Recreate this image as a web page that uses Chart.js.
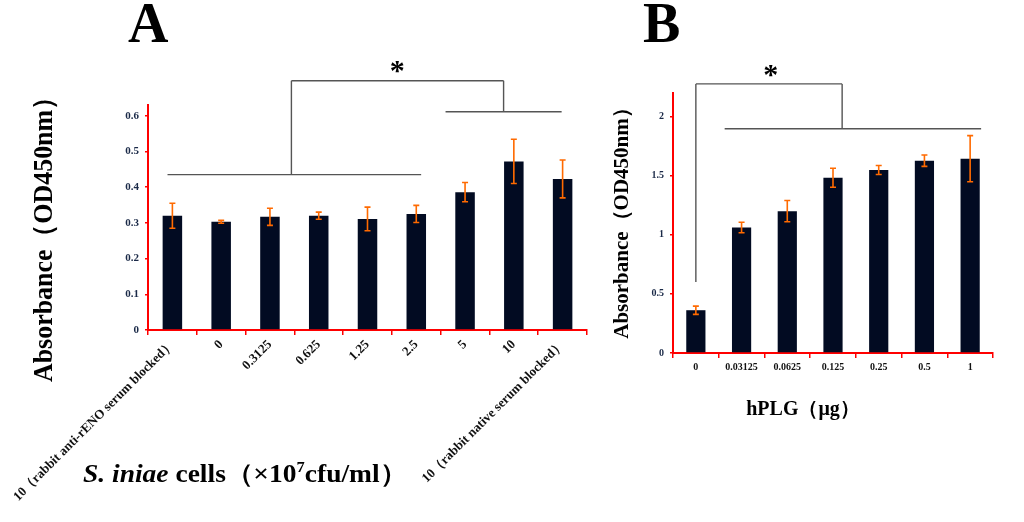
<!DOCTYPE html>
<html>
<head>
<meta charset="utf-8">
<script src="https://cdn.jsdelivr.net/npm/chart.js@4.4.1/dist/chart.umd.min.js"></script>
<style>
    html, body { margin: 0; padding: 0; background: #fff; width: 1024px; height: 522px; overflow: hidden; }
    canvas { position: absolute; top: 0; }
    #chartA { left: 0; }
    #chartB { left: 600px; }
</style>
</head>
<body>
<canvas id="chartA" width="600" height="522"></canvas>
<canvas id="chartB" width="424" height="522"></canvas>
<script>
// ---------------------------------------------------------------------------
// Data
// ---------------------------------------------------------------------------
const cellLabels = [
    '10（rabbit anti-rENO serum blocked）', '0', '0.3125', '0.625', '1.25',
    '2.5', '5', '10', '10（rabbit native serum blocked）',
];
const cellMeans  = [0.320, 0.303, 0.317, 0.320, 0.311, 0.325, 0.386, 0.472, 0.423];
const cellErrors = [0.035, 0.004, 0.024, 0.010, 0.033, 0.024, 0.027, 0.062, 0.053];

const hplgLabels = ['0', '0.03125', '0.0625', '0.125', '0.25', '0.5', '1'];
const hplgMeans  = [0.362, 1.062, 1.200, 1.483, 1.548, 1.627, 1.644];
const hplgErrors = [0.035, 0.044, 0.090, 0.080, 0.038, 0.048, 0.195];

// significance brackets, in data units: [xIndex1, y1, xIndex2, y2]
const bracketA = [
    [-0.1, 0.435, 5.1, 0.435],
    [2.44, 0.435, 2.44, 0.698],
    [2.44, 0.698, 6.79, 0.698],
    [6.79, 0.698, 6.79, 0.611],
    [5.6, 0.611, 7.98, 0.611],
];
const starA = [4.61, 0.736];

const bracketB = [
    [0, 0.6, 0, 2.277],
    [0, 2.277, 3.2, 2.277],
    [3.2, 2.277, 3.2, 1.898],
    [0.63, 1.898, 6.24, 1.898],
];
const starB = [1.64, 2.38];

// ---------------------------------------------------------------------------
// Styles
// ---------------------------------------------------------------------------
const SERIF = '"Liberation Serif", "Times New Roman", serif';
const BAR_COLOR = '#020b22';
const AXIS_RED = '#ff0000';
const ERR_COLOR = '#ff6a00';
const TICK_BLUE = '#1b2a48';

// ---------------------------------------------------------------------------
// Plugins
// ---------------------------------------------------------------------------
const errorBars = {
    id: 'errorBars',
    afterDatasetsDraw(chart, args, opts) {
        const { ctx } = chart;
        const y = chart.scales.y;
        const values = chart.data.datasets[0].data;
        ctx.save();
        ctx.strokeStyle = ERR_COLOR;
        ctx.lineWidth = 1.6;
        chart.getDatasetMeta(0).data.forEach((bar, i) => {
            const top = y.getPixelForValue(values[i] + opts.errors[i]);
            const bot = y.getPixelForValue(values[i] - opts.errors[i]);
            ctx.beginPath();
            ctx.moveTo(bar.x, top); ctx.lineTo(bar.x, bot);
            ctx.moveTo(bar.x - 3, top); ctx.lineTo(bar.x + 3, top);
            ctx.moveTo(bar.x - 3, bot); ctx.lineTo(bar.x + 3, bot);
            ctx.stroke();
        });
        ctx.restore();
    },
};

const brackets = {
    id: 'brackets',
    afterDraw(chart, args, opts) {
        const { ctx } = chart;
        const { x, y } = chart.scales;
        ctx.save();
        ctx.strokeStyle = '#555';
        ctx.lineWidth = 1.4;
        ctx.beginPath();
        opts.lines.forEach(([x1, y1, x2, y2]) => {
            ctx.moveTo(x.getPixelForValue(x1), y.getPixelForValue(y1));
            ctx.lineTo(x.getPixelForValue(x2), y.getPixelForValue(y2));
        });
        ctx.stroke();
        ctx.fillStyle = '#000';
        ctx.font = `bold 30px ${SERIF}`;
        ctx.textAlign = 'center';
        ctx.textBaseline = 'middle';
        ctx.fillText('*', x.getPixelForValue(opts.star[0]), y.getPixelForValue(opts.star[1]) + 5);
        ctx.restore();
    },
};

// free text: panel letters and axis titles
const labels = {
    id: 'labels',
    afterDraw(chart, args, opts) {
        const { ctx } = chart;
        ctx.save();
        ctx.fillStyle = '#000';
        opts.items.forEach(item => {
            ctx.save();
            ctx.translate(item.x, item.y);
            if (item.rotate) ctx.rotate(item.rotate);
            if (item.scaleX) ctx.scale(item.scaleX, 1);
            ctx.textBaseline = 'alphabetic';
            let total = 0;
            item.parts.forEach(p => { ctx.font = p.font; total += ctx.measureText(p.text).width; });
            let cx = item.align === 'center' ? -total / 2 : 0;
            item.parts.forEach(p => {
                ctx.font = p.font;
                ctx.fillText(p.text, cx, p.dy || 0);
                cx += ctx.measureText(p.text).width;
            });
            ctx.restore();
        });
        ctx.restore();
    },
};

function yAxis(max, step, width, font) {
    return {
        min: 0,
        max: max,
        // whole steps only; the axis line runs a little past the last tick
        afterBuildTicks: s => {
            const n = Math.floor(max / step + 1e-9);
            s.ticks = Array.from({ length: n + 1 }, (_, i) => ({ value: Number((i * step).toFixed(3)) }));
        },
        afterFit: s => { s.width = width; },
        grid: { display: true, drawOnChartArea: false, color: AXIS_RED, lineWidth: 1.5, tickLength: 3 },
        border: { color: AXIS_RED, width: 2 },
        ticks: {
            stepSize: step, color: TICK_BLUE, padding: 6,
            font: { family: SERIF, size: font, weight: 'bold' },
            callback: v => String(Number(v.toFixed(3))),
        },
    };
}

// ---------------------------------------------------------------------------
// Panel A
// ---------------------------------------------------------------------------
new Chart(document.getElementById('chartA'), {
    type: 'bar',
    data: {
        labels: cellLabels,
        datasets: [{ data: cellMeans, backgroundColor: BAR_COLOR, barPercentage: 0.4, categoryPercentage: 1 }],
    },
    options: {
        responsive: false,
        animation: false,
        layout: { padding: { left: 0, right: 13, top: 105, bottom: 0 } },
        plugins: {
            legend: { display: false },
            tooltip: { enabled: false },
            errorBars: { errors: cellErrors },
            brackets: { lines: bracketA, star: starA },
            labels: {
                items: [
                    { x: 128, y: 42, parts: [{ text: 'A', font: `bold 56px ${SERIF}` }] },
                    { x: 52, y: 233, rotate: -Math.PI / 2, scaleX: 0.96, align: 'center',
                      parts: [{ text: 'Absorbance（OD450nm）', font: `bold 27px ${SERIF}` }] },
                    { x: 83, y: 482, scaleX: 1.1, parts: [
                        { text: 'S. iniae', font: `italic bold 25px ${SERIF}` },
                        { text: ' cells（×10', font: `bold 25px ${SERIF}` },
                        { text: '7', font: `bold 15px ${SERIF}`, dy: -10 },
                        { text: 'cfu/ml）', font: `bold 25px ${SERIF}` },
                    ] },
                ],
            },
        },
        scales: {
            x: {
                afterFit: s => { s.height = 192; },
                grid: { display: true, drawOnChartArea: false, offset: true, color: AXIS_RED, lineWidth: 1.5, tickLength: 5 },
                border: { color: AXIS_RED, width: 2 },
                ticks: { autoSkip: false, minRotation: 45, maxRotation: 45, padding: 2, color: '#111',
                         font: { family: SERIF, size: 13, weight: 'bold' } },
            },
            y: yAxis(0.63, 0.1, 148, 11),
        },
    },
    plugins: [errorBars, brackets, labels],
});

// ---------------------------------------------------------------------------
// Panel B
// ---------------------------------------------------------------------------
new Chart(document.getElementById('chartB'), {
    type: 'bar',
    data: {
        labels: hplgLabels,
        datasets: [{ data: hplgMeans, backgroundColor: BAR_COLOR, barPercentage: 0.42, categoryPercentage: 1 }],
    },
    options: {
        responsive: false,
        animation: false,
        layout: { padding: { left: 0, right: 31, top: 93, bottom: 0 } },
        plugins: {
            legend: { display: false },
            tooltip: { enabled: false },
            errorBars: { errors: hplgErrors },
            brackets: { lines: bracketB, star: starB },
            labels: {
                items: [
                    { x: 43, y: 42, parts: [{ text: 'B', font: `bold 56px ${SERIF}` }] },
                    { x: 28, y: 218, rotate: -Math.PI / 2, align: 'center',
                      parts: [{ text: 'Absorbance（OD450nm）', font: `bold 21px ${SERIF}` }] },
                    { x: 203, y: 415, align: 'center',
                      parts: [{ text: 'hPLG（μg）', font: `bold 20px ${SERIF}` }] },
                ],
            },
        },
        scales: {
            x: {
                afterFit: s => { s.height = 169; },
                grid: { display: true, drawOnChartArea: false, offset: true, color: AXIS_RED, lineWidth: 1.5, tickLength: 5 },
                border: { color: AXIS_RED, width: 2 },
                ticks: { autoSkip: false, maxRotation: 0, padding: 3, color: '#111',
                         font: { family: SERIF, size: 10, weight: 'bold' } },
            },
            y: yAxis(2.2, 0.5, 73, 10),
        },
    },
    plugins: [errorBars, brackets, labels],
});
</script>
</body>
</html>
